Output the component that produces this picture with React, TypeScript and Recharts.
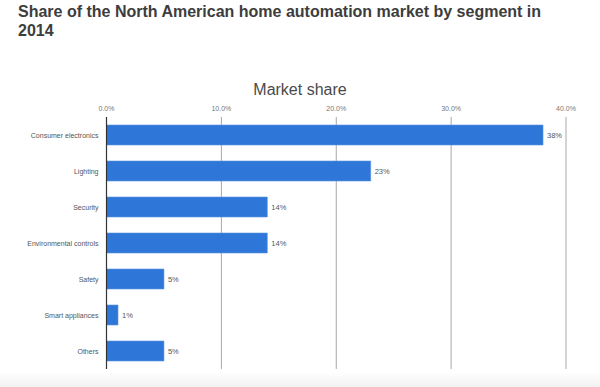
import React from 'react';
import { BarChart, Bar, XAxis, YAxis, CartesianGrid, LabelList } from 'recharts';

// segmente și cote de piață (%)
const segments = [
    'Consumer electronics',
    'Lighting',
    'Security',
    'Environmental controls',
    'Safety',
    'Smart appliances',
    'Others'
];
const shares = [38, 23, 14, 14, 5, 1, 5];
const axisTicks = [0, 10, 20, 30, 40];

const data = segments.map((name, i) => ({ name, share: shares[i] }));

const font = '"Liberation Sans", Arial, Helvetica, sans-serif';

// eticheta categoriei pe un singur rând (fără împărțire automată)
const CategoryTick = (props: any) => {
    const { x, y, payload } = props;
    return (
        <text
            x={x}
            y={y}
            textAnchor="end"
            dominantBaseline="central"
            fontSize={7}
            fill="#555"
            fontFamily={font}
        >
            {payload.value}
        </text>
    );
};

const App: React.FC = () => {
    return (
        <div
            style={{
                position: 'absolute',
                top: 0,
                left: 0,
                width: 600,
                height: 387,
                background: '#fff',
                fontFamily: font,
                overflow: 'hidden'
            }}
        >
            <div
                style={{
                    position: 'absolute',
                    left: 18,
                    top: 2,
                    width: 545,
                    fontSize: 16,
                    fontWeight: 'bold',
                    lineHeight: '19px',
                    color: '#3d3d3d'
                }}
            >
                Share of the North American home automation market by segment in 2014
            </div>
            <div
                style={{
                    position: 'absolute',
                    left: 0,
                    width: 600,
                    top: 81,
                    textAlign: 'center',
                    fontSize: 16,
                    color: '#4a4a4a'
                }}
            >
                Market share
            </div>
            <div style={{ position: 'absolute', left: 0, top: 0 }}>
                <BarChart
                    width={600}
                    height={387}
                    data={data}
                    layout="vertical"
                    margin={{ top: 97, right: 34, bottom: 18, left: 0 }}
                    barSize={20}
                >
                    <CartesianGrid horizontal={false} vertical={true} stroke="#a8a8a8" />
                    <XAxis
                        type="number"
                        orientation="top"
                        domain={[0, 40]}
                        ticks={axisTicks}
                        height={20}
                        axisLine={false}
                        tickLine={false}
                        tickSize={4}
                        tickMargin={2}
                        tick={{ fontSize: 7, fill: '#777', fontFamily: font }}
                        tickFormatter={(v: number) => `${v.toFixed(1)}%`}
                    />
                    <YAxis
                        type="category"
                        dataKey="name"
                        width={106.5}
                        axisLine={{ stroke: '#333', strokeWidth: 1.2 }}
                        tickLine={false}
                        interval={0}
                        tick={<CategoryTick />}
                    />
                    <Bar dataKey="share" fill="#2e77d8" stroke="#5a94e2" strokeWidth={0.6} isAnimationActive={false}>
                        <LabelList
                            dataKey="share"
                            position="right"
                            offset={4}
                            formatter={(v: any) => `${v}%`}
                            style={{ fontSize: 7.5, fill: '#555', fontFamily: font }}
                        />
                    </Bar>
                </BarChart>
            </div>
            <div
                style={{
                    position: 'absolute',
                    left: 0,
                    top: 372,
                    width: 600,
                    height: 15,
                    background: 'linear-gradient(#ffffff, #f1f1f1)'
                }}
            />
        </div>
    );
};

export default App;
